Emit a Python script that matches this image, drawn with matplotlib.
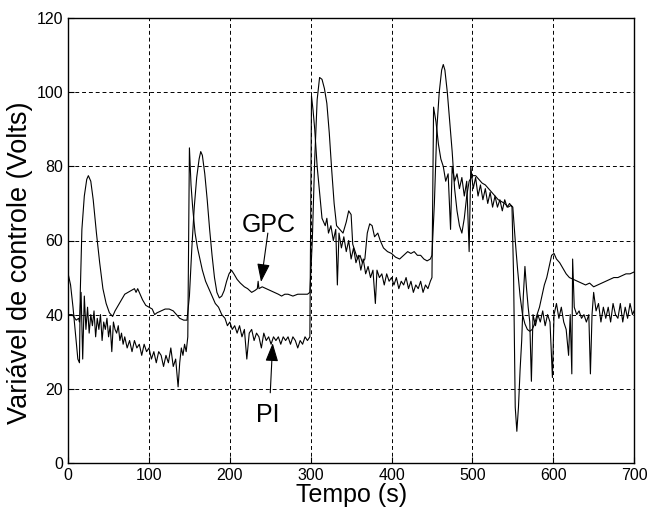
import matplotlib
matplotlib.use('Agg')
import matplotlib.pyplot as plt

plt.rcParams['font.family'] = ['Liberation Sans', 'DejaVu Sans']

# PI: tempo (s) e tensão (V)
t_pi = [0, 5, 10, 13, 14, 16, 18, 20, 22, 24, 26, 28, 30, 32, 34, 36, 38, 40, 42, 44,
        46, 48, 50, 52, 54, 56, 58, 60, 62, 64, 66, 68, 70, 73, 76, 79, 82, 85, 88, 91,
        94, 97, 100, 103, 106, 109, 112, 115, 118, 121, 124, 127, 130, 133, 136, 138, 140, 142, 144, 146,
        148, 150, 152, 154, 157, 160, 163, 166, 170, 174, 178, 182, 186, 190, 194, 197, 200, 203, 206, 209,
        212, 215, 218, 221, 224, 227, 230, 233, 236, 239, 242, 245, 248, 251, 254, 257, 260, 263, 266, 269,
        272, 275, 278, 281, 284, 287, 290, 293, 296, 299, 301, 303, 305, 308, 311, 314, 316, 318, 320, 322,
        325, 328, 331, 333, 335, 338, 341, 344, 347, 350, 353, 356, 359, 362, 365, 368, 371, 374, 377, 380,
        382, 385, 388, 391, 394, 397, 400, 403, 406, 409, 412, 415, 418, 421, 424, 427, 430, 433, 436, 439,
        442, 445, 448, 450, 452, 455, 458, 461, 464, 467, 470, 473, 475, 478, 481, 484, 487, 490, 493, 496,
        498, 501, 504, 507, 510, 513, 516, 519, 522, 525, 528, 531, 534, 537, 540, 543, 546, 549, 551, 553,
        555, 557, 559, 561, 563, 565, 567, 569, 571, 573, 575, 578, 581, 584, 587, 590, 593, 596, 599, 601,
        604, 607, 610, 613, 616, 619, 621, 623, 624, 626, 629, 632, 635, 638, 641, 644, 646, 648, 650, 653,
        656, 659, 662, 665, 668, 671, 674, 677, 680, 683, 686, 689, 692, 695, 698, 700]
v_pi = [40, 40, 38.5, 39, 38, 46, 28, 45, 36, 42, 35, 40, 37, 41, 34, 39, 36, 40, 33, 38,
        36, 39, 34, 37, 30, 38, 36, 35, 37, 33, 35, 32, 34, 31, 33, 30, 33, 31, 32, 29,
        32, 30, 31, 28, 30, 27, 30, 29, 26, 29, 27, 31, 26, 28, 20.5, 27, 31, 29, 32, 30,
        34, 85, 75, 69, 62, 58, 55, 52, 49, 47, 45, 43, 42, 40, 39, 37, 38, 36, 37, 35,
        37, 34, 36, 28, 35, 36, 33, 35, 34, 31, 35, 33, 34, 32, 34, 33, 34, 32, 34, 33,
        34, 32, 34, 33, 31, 33, 32, 34, 33, 34, 99, 95, 90, 80, 73, 66, 65, 64, 66, 62,
        64, 60, 63, 48, 62, 58, 61, 57, 60, 55, 58, 54, 56, 52, 55, 51, 53, 50, 52, 43,
        52, 50, 51, 48, 51, 49, 50, 48, 50, 47, 49, 48, 50, 47, 49, 46, 48, 47, 49, 46,
        48, 47, 49, 50, 96, 92, 86, 82, 80, 76, 78, 63, 80, 76, 78, 74, 77, 72, 76, 57,
        80, 74, 77, 72, 75, 71, 74, 70, 73, 69, 72, 69, 71, 68, 71, 69, 70, 69, 50, 15,
        8.5, 15, 25, 33, 45, 53, 47, 42, 38, 22, 40, 37, 40, 38, 41, 37, 40, 38, 23, 40,
        43, 39, 42, 38, 36, 29, 40, 24, 55, 42, 40, 41, 39, 40, 38, 40, 24, 40, 46, 41,
        43, 38, 42, 39, 42, 38, 43, 40, 39, 43, 38, 42, 39, 43, 40, 41]

# GPC
t_gpc = [0, 3, 6, 9, 12, 14, 15, 17, 20, 23, 25, 28, 31, 35, 39, 43, 47, 51, 55, 58,
         62, 66, 70, 74, 78, 82, 84, 86, 88, 92, 96, 100, 104, 107, 110, 115, 120, 125, 130, 134,
         138, 143, 147, 150, 153, 156, 159, 162, 164, 166, 169, 172, 175, 178, 181, 184, 187, 190, 193, 196,
         199, 202, 205, 209, 213, 218, 222, 227, 231, 234, 235, 236, 240, 245, 250, 255, 260, 264, 268, 272,
         278, 284, 290, 296, 299, 302, 305, 308, 311, 314, 317, 320, 323, 326, 329, 332, 336, 340, 344, 347,
         350, 352, 355, 358, 361, 364, 367, 370, 373, 376, 379, 383, 386, 390, 395, 400, 405, 410, 415, 420,
         424, 428, 432, 436, 440, 444, 448, 450, 453, 456, 459, 462, 464, 466, 469, 472, 475, 478, 481, 484,
         487, 490, 493, 496, 500, 504, 508, 512, 516, 520, 524, 528, 532, 536, 540, 544, 548, 550, 553, 556,
         559, 562, 565, 568, 571, 574, 577, 580, 583, 586, 589, 592, 595, 598, 601, 604, 608, 612, 616, 620,
         625, 630, 635, 640, 645, 650, 655, 660, 665, 670, 675, 680, 685, 690, 695, 700]
v_gpc = [51, 48, 42, 35, 28, 27, 46, 63, 72, 76.5, 77.5, 76, 71, 62, 54, 47, 43, 40.5, 39.5, 41,
         42.5, 44, 45.5, 46, 46.5, 47, 46, 47, 46, 44, 42.5, 42, 41.5, 40, 40.5, 41, 41.5, 41.5, 41, 40,
         39, 38.5, 38.5, 45, 58, 69, 77, 82, 84, 83, 78, 71, 63, 56, 50, 46, 44.5, 45, 46.5, 49,
         51, 52, 51, 49.5, 48.5, 47.5, 47, 46, 46.5, 47, 49, 47, 47.5, 47, 46.5, 46, 45.5, 45, 45.5, 45.5,
         45, 45.5, 45.5, 45.5, 46, 60, 82, 98, 104, 103.5, 101, 97, 89, 79, 70, 64, 63, 62, 65, 68,
         67, 59, 57, 55, 56, 54, 55, 62, 64.5, 64, 61, 62, 60, 58, 57, 56.5, 55.5, 55, 56, 57,
         56.5, 57, 56, 56, 55, 54.5, 55, 56, 70, 90, 100, 106, 107.5, 106, 100, 92, 84, 74, 68, 64,
         62, 66, 72, 76, 77.5, 77.5, 76.5, 75.5, 75, 74, 73, 72, 71, 70.5, 70, 69, 69.5, 69, 60, 52,
         45, 40, 37.5, 36, 35.5, 36, 37.5, 40, 42, 45, 48, 50, 53, 56, 56.5, 55, 54, 52.5, 51, 50,
         49.5, 49, 48.5, 48, 48.5, 47.5, 48, 48.5, 49, 49.5, 50, 50, 50.5, 51, 51, 51.5]

xticks = [0, 100, 200, 300, 400, 500, 600, 700]
yticks = [0, 20, 40, 60, 80, 100, 120]

fig = plt.figure(figsize=(6.49, 5.2), dpi=100)
ax = fig.add_axes([0.105, 0.11, 0.872, 0.855])

ax.plot(t_gpc, v_gpc, color='black', linewidth=0.8)
ax.plot(t_pi, v_pi, color='black', linewidth=0.8)

ax.set_xlim(0, 700)
ax.set_ylim(0, 120)
ax.set_xticks(xticks)
ax.set_yticks(yticks)
ax.tick_params(direction='in', labelsize=11.5, length=4)
ax.grid(True, color='black', linestyle=(0, (4, 3)), linewidth=0.7)
for s in ax.spines.values():
    s.set_linewidth(1.0)

ax.set_xlabel('Tempo (s)', fontsize=18, labelpad=0)
ax.set_ylabel('Variável de controle (Volts)', fontsize=19.5)
ax.yaxis.set_label_coords(-0.062, 0.45)

# rótulos com setas
seta = dict(arrowstyle='-|>,head_length=0.8,head_width=0.28', color='black', lw=0.8,
            mutation_scale=14, shrinkA=0, shrinkB=0)
ax.text(247.8, 62.3, 'GPC', fontsize=18, ha='center', va='baseline')
ax.annotate('', xy=(238.6, 48.8), xytext=(247, 62), arrowprops=seta)
ax.text(246.6, 11.05, 'PI', fontsize=18, ha='center', va='baseline')
ax.annotate('', xy=(253, 32.3), xytext=(250, 18.9), arrowprops=seta)

fig.savefig('out.png', dpi=100)
